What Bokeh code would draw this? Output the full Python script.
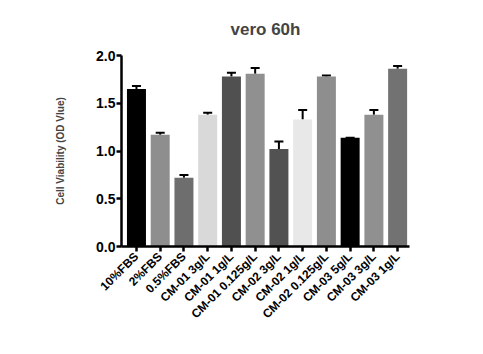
import math
from bokeh.plotting import figure
from bokeh.models import ColumnDataSource, Range1d, FixedTicker, Whisker, TeeHead, NumeralTickFormatter
from bokeh.embed import file_html
from bokeh.resources import INLINE

categories = ["10%FBS", "2%FBS", "0.5%FBS", "CM-01 3g/L", "CM-01 1g/L", "CM-01 0.125g/L",
              "CM-02 3g/L", "CM-02 1g/L", "CM-02 0.125g/L", "CM-03 5g/L", "CM-03 3g/L", "CM-03 1g/L"]
values = [1.65, 1.17, 0.72, 1.38, 1.78, 1.81, 1.02, 1.33, 1.78, 1.14, 1.38, 1.86]
errors = [0.03, 0.02, 0.03, 0.02, 0.04, 0.06, 0.08, 0.10, 0.01, 0.0, 0.05, 0.03]
colors = ["#000000", "#8e8e8e", "#6e6e6e", "#d9d9d9", "#505050", "#909090",
          "#525252", "#e8e8e8", "#8e8e8e", "#000000", "#909090", "#727272"]
yticks = [0.0, 0.5, 1.0, 1.5, 2.0]

xs = list(range(len(categories)))
src = ColumnDataSource(dict(x=xs, top=values, upper=[v + e for v, e in zip(values, errors)], color=colors))

p = figure(width=483, height=354, output_backend="svg", toolbar_location=None,
           x_range=Range1d(-0.63, 11.5), y_range=Range1d(0, 2.0),
           min_border_left=121, min_border_right=74, min_border_top=55, min_border_bottom=108,
           title="vero 60h")
p.title.align = "center"
p.title.text_font = "Liberation Sans"
p.title.text_font_size = "17px"
p.title.text_font_style = "bold"
p.title.standoff = 33
p.outline_line_color = None
p.grid.visible = False
p.background_fill_color = "white"
p.border_fill_color = "white"

p.vbar(x="x", top="top", width=0.8, bottom=0, color="color", line_color=None, source=src)
w = Whisker(base="x", lower="top", upper="upper", source=src, line_color="black", line_width=2,
            upper_head=TeeHead(size=9, line_width=2, line_color="black"), lower_head=None)
p.add_layout(w)

for ax in (p.xaxis[0], p.yaxis[0]):
    ax.axis_line_width = 2.5
    ax.major_tick_line_width = 2.5
    ax.major_tick_out = 5
    ax.major_tick_in = 0
    ax.minor_tick_line_color = None
    ax.major_label_text_font = "Liberation Sans"
    ax.major_label_text_font_style = "bold"
    ax.major_label_text_color = "black"

p.yaxis.ticker = FixedTicker(ticks=yticks)
p.yaxis.formatter = NumeralTickFormatter(format="0.0")
p.yaxis.major_label_text_font_size = "14px"
p.yaxis.major_label_standoff = 1
p.yaxis.axis_label = "Cell Viability (OD Vlue)"
p.yaxis.axis_label_text_font = "Liberation Sans"
p.yaxis.axis_label_text_font_style = "bold"
p.yaxis.axis_label_text_font_size = "10px"
p.yaxis.axis_label_standoff = 27

p.xaxis.ticker = FixedTicker(ticks=xs)
p.xaxis.major_label_overrides = {i: c for i, c in enumerate(categories)}
p.xaxis.major_label_orientation = math.pi / 4
p.xaxis.major_label_text_font_size = "12px"
p.xaxis.major_label_standoff = 3

open("out.html", "w").write(file_html(p, INLINE))
